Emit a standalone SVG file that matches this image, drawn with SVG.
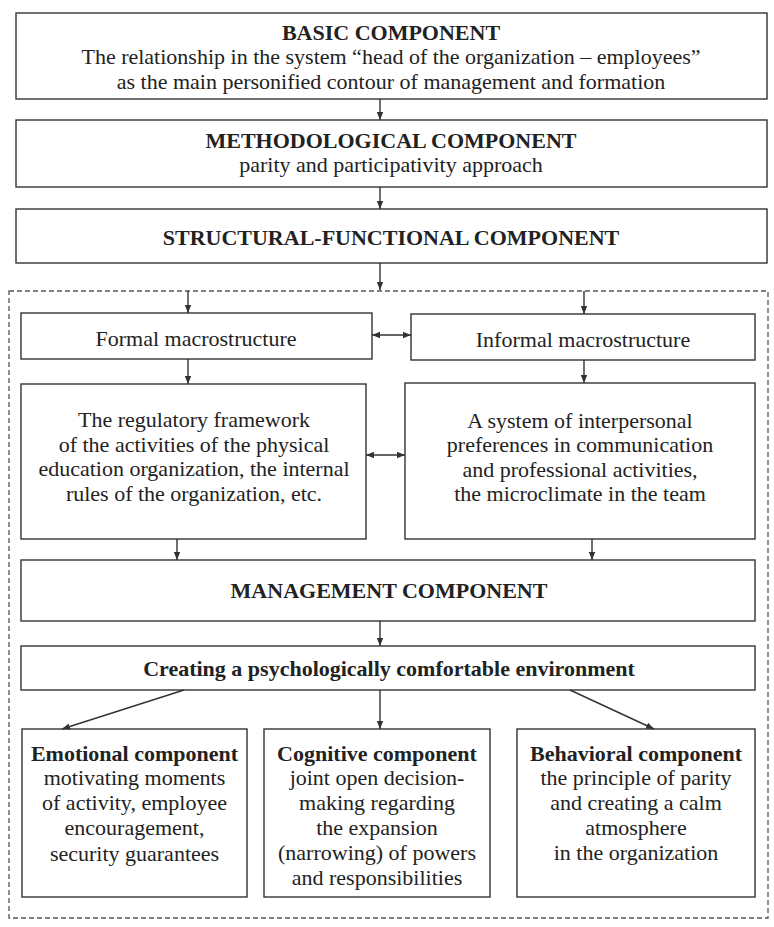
<svg xmlns="http://www.w3.org/2000/svg" width="774" height="927" viewBox="0 0 774 927">
<defs>
<marker id="ah" viewBox="0 0 10 10" refX="10" refY="5" markerWidth="8" markerHeight="8" markerUnits="userSpaceOnUse" orient="auto-start-reverse">
<path d="M0,1 L10,5 L0,9 Z" fill="#333"/>
</marker>
</defs>
<style>
rect.b{fill:#fff;stroke:#333;stroke-width:1.4}
text{font-family:"Liberation Serif","Times New Roman",serif;font-size:22px;fill:#222;text-anchor:middle}
.t{font-weight:bold}
.c{stroke:#333;stroke-width:1.4;fill:none}
</style>
<rect x="9" y="291" width="759" height="627" fill="none" stroke="#555" stroke-width="1.3" stroke-dasharray="5,3"/>
<g id="basic"><rect class="b" x="16" y="13" width="751" height="86"/>
<text class="t" x="391" y="40">BASIC COMPONENT</text>
<text x="391" y="64">The relationship in the system “head of the organization – employees”</text>
<text x="391" y="89">as the main personified contour of management and formation</text></g>
<g id="methodological"><rect class="b" x="16" y="120" width="751" height="67"/>
<text class="t" x="391" y="148">METHODOLOGICAL COMPONENT</text>
<text x="391" y="172">parity and participativity approach</text></g>
<g id="structural"><rect class="b" x="16" y="209" width="751" height="54"/>
<text class="t" x="391" y="245">STRUCTURAL-FUNCTIONAL COMPONENT</text></g>
<g id="formal"><rect class="b" x="21" y="313" width="351" height="46"/>
<text x="196" y="346">Formal macrostructure</text></g>
<g id="informal"><rect class="b" x="411" y="314" width="344" height="46"/>
<text x="583" y="347">Informal macrostructure</text></g>
<g id="regulatory"><rect class="b" x="21" y="384" width="345" height="155"/>
<text x="194" y="427">The regulatory framework</text>
<text x="194" y="452">of the activities of the physical</text>
<text x="194" y="476">education organization, the internal</text>
<text x="194" y="501">rules of the organization, etc.</text></g>
<g id="interpersonal"><rect class="b" x="405" y="383" width="350" height="156"/>
<text x="580" y="428">A system of interpersonal</text>
<text x="580" y="452">preferences in communication</text>
<text x="580" y="477">and professional activities,</text>
<text x="580" y="501">the microclimate in the team</text></g>
<g id="management"><rect class="b" x="21" y="560" width="734" height="61"/>
<text class="t" x="389" y="598">MANAGEMENT COMPONENT</text></g>
<g id="creating"><rect class="b" x="21" y="646" width="734" height="44"/>
<text class="t" x="389" y="676">Creating a psychologically comfortable environment</text></g>
<g id="emotional"><rect class="b" x="22" y="729" width="225" height="168"/>
<text class="t" x="134.5" y="761">Emotional component</text>
<text x="134.5" y="785">motivating moments</text>
<text x="134.5" y="810">of activity, employee</text>
<text x="134.5" y="835">encouragement,</text>
<text x="134.5" y="861">security guarantees</text></g>
<g id="cognitive"><rect class="b" x="264" y="729" width="226" height="168"/>
<text class="t" x="377" y="761">Cognitive component</text>
<text x="377" y="785">joint open decision-</text>
<text x="377" y="810">making regarding</text>
<text x="377" y="835">the expansion</text>
<text x="377" y="860">(narrowing) of powers</text>
<text x="377" y="885">and responsibilities</text></g>
<g id="behavioral"><rect class="b" x="517" y="729" width="238" height="168"/>
<text class="t" x="636" y="761">Behavioral component</text>
<text x="636" y="785">the principle of parity</text>
<text x="636" y="810">and creating a calm</text>
<text x="636" y="835">atmosphere</text>
<text x="636" y="860">in the organization</text></g>
<g id="connectors">
<line class="c" x1="380" y1="99" x2="380" y2="120" marker-end="url(#ah)"/>
<line class="c" x1="380" y1="187" x2="380" y2="209" marker-end="url(#ah)"/>
<line class="c" x1="380" y1="263" x2="380" y2="290" marker-end="url(#ah)"/>
<line class="c" x1="188" y1="291" x2="188" y2="313" marker-end="url(#ah)"/>
<line class="c" x1="584" y1="291" x2="584" y2="314" marker-end="url(#ah)"/>
<line class="c" x1="372" y1="335" x2="411" y2="335" marker-start="url(#ah)" marker-end="url(#ah)"/>
<line class="c" x1="188" y1="359" x2="188" y2="384" marker-end="url(#ah)"/>
<line class="c" x1="584" y1="360" x2="584" y2="383" marker-end="url(#ah)"/>
<line class="c" x1="366" y1="455" x2="405" y2="455" marker-start="url(#ah)" marker-end="url(#ah)"/>
<line class="c" x1="177" y1="539" x2="177" y2="560" marker-end="url(#ah)"/>
<line class="c" x1="592" y1="539" x2="592" y2="560" marker-end="url(#ah)"/>
<line class="c" x1="380" y1="621" x2="380" y2="646" marker-end="url(#ah)"/>
<line class="c" x1="184" y1="690" x2="62" y2="729" marker-end="url(#ah)"/>
<line class="c" x1="380" y1="690" x2="380" y2="729" marker-end="url(#ah)"/>
<line class="c" x1="570" y1="690" x2="654" y2="729" marker-end="url(#ah)"/>
</g>
</svg>
